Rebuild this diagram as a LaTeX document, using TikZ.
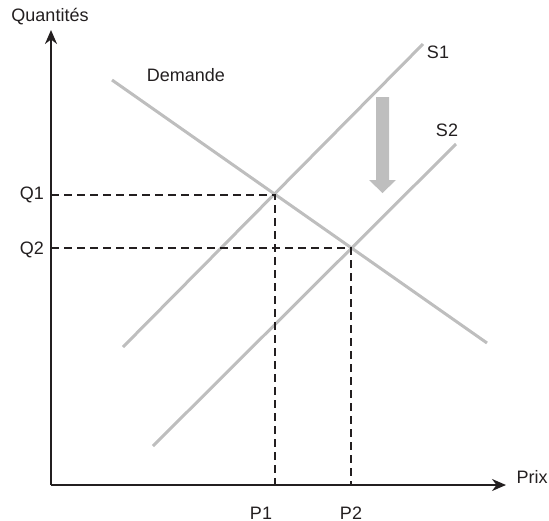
\documentclass[tikz,border=0pt]{standalone}
\usepackage{fontspec}
\setmainfont{Liberation Sans}
\usetikzlibrary{arrows.meta}
\definecolor{encre}{HTML}{231F20}
\definecolor{courbe}{HTML}{BEBEBE}
\tikzset{
    axe/.style={draw=encre, line width=2pt, -{Stealth[length=14pt, width=12pt]}},
    pointille/.style={draw=encre, line width=2pt, dash pattern=on 8pt off 5pt},
    droite/.style={draw=courbe, line width=3pt},
    etiquette/.style={text=encre, inner sep=0pt, font=\fontsize{18}{21}\selectfont}
}
\begin{document}
\begin{tikzpicture}[x=1pt, y=-1pt]

        \useasboundingbox (0,0) rectangle (549,520);

        % --- Axes ---
        \coordinate (O) at (51,485);
        \coordinate (haut) at (51,30);
        \coordinate (droite) at (506,485);
        \draw[axe] (O) -- (haut);
        \draw[axe] (O) -- (droite);
        \node[etiquette] (quant) at (50,17) {Quantités};
        \node[etiquette] (prix) at (532,477) {Prix};

        % --- Courbes (demande, offres S1 et S2) ---
        \coordinate (D0) at (112,80);
        \coordinate (D1) at (487,343);
        \coordinate (S1a) at (123,347);
        \coordinate (S1b) at (423,44);
        \coordinate (S2a) at (153,446);
        \coordinate (S2b) at (456,144);
        \draw[droite] (D0) -- (D1);
        \draw[droite] (S1a) -- (S1b);
        \draw[droite] (S2a) -- (S2b);
        \node[etiquette] (dem) at (186,75) {Demande};
        \node[etiquette] (s1) at (438,52) {S1};
        \node[etiquette] (s2) at (447,130) {S2};

        % --- Equilibres et pointilles ---
        \coordinate (E1) at (275,195);
        \coordinate (E2) at (351,248);
        \foreach \pt/\q/\p in {E1/Q1/P1, E2/Q2/P2} {
            \draw[pointille] (O |- \pt) -- (\pt) -- (\pt |- O);
        }
        \node[etiquette] (q1) at (32,195) {Q1};
        \node[etiquette] (q2) at (32,250) {Q2};
        \node[etiquette] (p1) at (261,513) {P1};
        \node[etiquette] (p2) at (351,513) {P2};

        % --- Fleche de deplacement de l'offre ---
        \fill[courbe] (376,97) -- (389,97) -- (389,180) -- (396,180)
            -- (382.5,193) -- (369,180) -- (376,180) -- cycle;

    \end{tikzpicture}
\end{document}
